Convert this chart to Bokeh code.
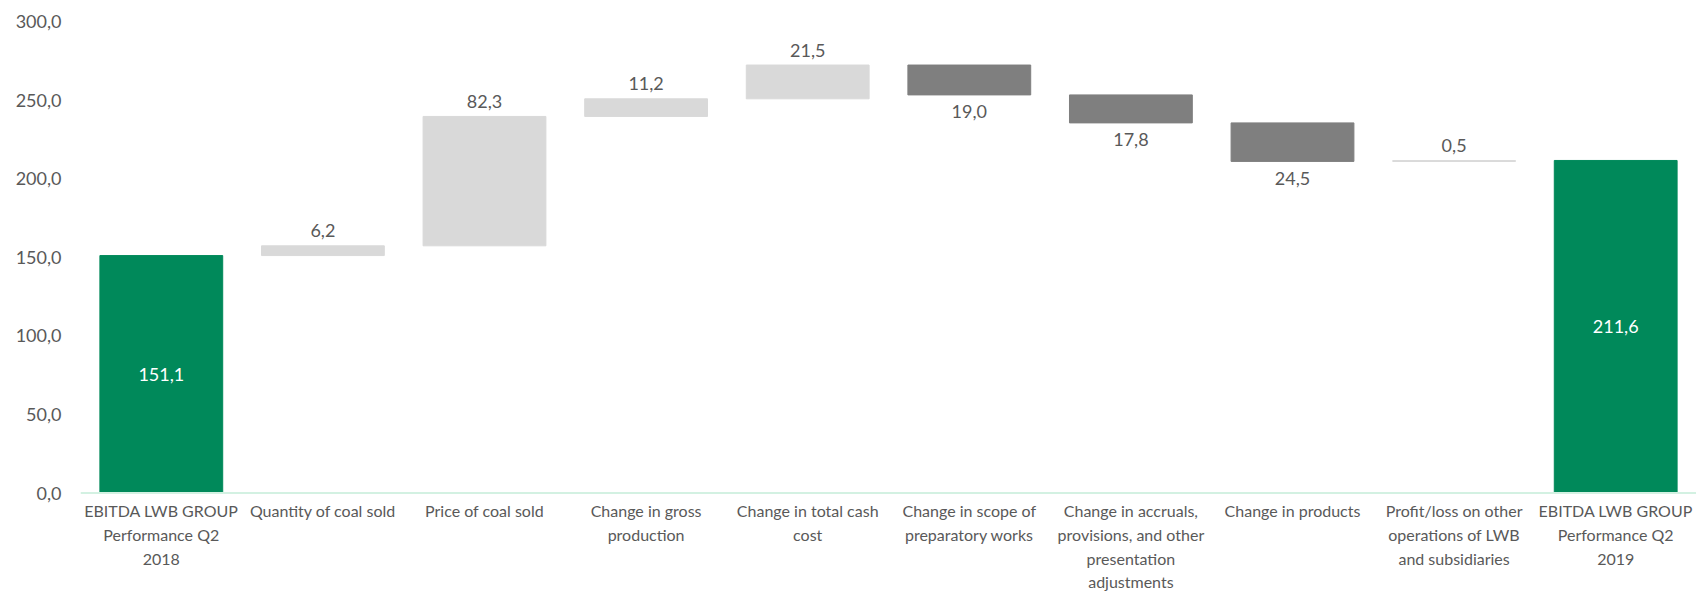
from bokeh.plotting import figure
from bokeh.models import FactorRange, Range1d, FixedTicker, CustomJSTickFormatter, ColumnDataSource, Span
from bokeh.core.properties import value
from bokeh.embed import file_html
from bokeh.resources import INLINE

# EBITDA bridge, LWB Group, Q2 2018 -> Q2 2019 (PLN m)
categories = [
    "EBITDA LWB GROUP\nPerformance Q2\n2018",
    "Quantity of coal sold",
    "Price of coal sold",
    "Change in gross\nproduction",
    "Change in total cash\ncost",
    "Change in scope of\npreparatory works",
    "Change in accruals,\nprovisions, and other\npresentation\nadjustments",
    "Change in products",
    "Profit/loss on other\noperations of LWB\nand subsidiaries",
    "EBITDA LWB GROUP\nPerformance Q2\n2019",
]
start_total = 151.1
deltas = [6.2, 82.3, 11.2, 21.5, -19.0, -17.8, -24.5, 0.5]
end_total = 211.6
y_ticks = [0, 50, 100, 150, 200, 250, 300]

GREEN = "#00895A"
UP = "#D9D9D9"
DOWN = "#7F7F7F"
TEXT = "#595959"
AXIS = "#D3F1E2"
FONT = "Lato"


def fmt(v):
    return f"{abs(v):.1f}".replace(".", ",")


# bar extents: totals rise from zero, changes float on the running sum
bottoms, tops, colors = [0.0], [start_total], [GREEN]
running = start_total
for d in deltas:
    lo, hi = (running, running + d) if d >= 0 else (running + d, running)
    bottoms.append(lo)
    tops.append(hi)
    colors.append(UP if d >= 0 else DOWN)
    running += d
bottoms.append(0.0)
tops.append(end_total)
colors.append(GREEN)

bars = ColumnDataSource(dict(x=categories, bottom=bottoms, top=tops, color=colors))

# the value scale runs 0..300; the band under zero holds the category names
p = figure(
    x_range=FactorRange(*categories, range_padding=0),
    y_range=Range1d(-64.5, 300),
    width=1696, height=594,
    output_backend="svg", toolbar_location=None,
    min_border_left=80, min_border_right=0, min_border_top=21, min_border_bottom=0,
)
p.outline_line_color = None
p.background_fill_color = "white"
p.border_fill_color = "white"
p.xgrid.grid_line_color = None
p.ygrid.grid_line_color = None
p.xaxis.visible = False

p.vbar(x="x", bottom="bottom", top="top", width=0.76, color="color", source=bars)

# category baseline
p.add_layout(Span(location=0, dimension="width", line_color=AXIS, line_width=2))

# change labels: above rising bars, below falling bars
up_src = ColumnDataSource(dict(
    x=[c for c, d in zip(categories[1:-1], deltas) if d >= 0],
    y=[t for t, d in zip(tops[1:-1], deltas) if d >= 0],
    t=[fmt(d) for d in deltas if d >= 0],
))
dn_src = ColumnDataSource(dict(
    x=[c for c, d in zip(categories[1:-1], deltas) if d < 0],
    y=[b for b, d in zip(bottoms[1:-1], deltas) if d < 0],
    t=[fmt(d) for d in deltas if d < 0],
))
tot_src = ColumnDataSource(dict(
    x=[categories[0], categories[-1]],
    y=[start_total / 2, end_total / 2],
    t=[fmt(start_total), fmt(end_total)],
))
common = dict(text="t", text_font=value(FONT), text_font_size="18px",
              text_align="center", text_baseline="middle")
p.text(x="x", y="y", source=up_src, y_offset=-15, text_color=TEXT, **common)
p.text(x="x", y="y", source=dn_src, y_offset=17, text_color=TEXT, **common)
p.text(x="x", y="y", source=tot_src, text_color="white", **common)

# category names under the baseline
cat_src = ColumnDataSource(dict(x=categories, y=[0] * len(categories), t=categories))
p.text(x="x", y="y", text="t", source=cat_src, y_offset=8,
       text_font=value(FONT), text_font_size="16px", text_color=TEXT,
       text_align="center", text_baseline="top", text_line_height=1.25)

# y axis
ya = p.yaxis[0]
ya.ticker = FixedTicker(ticks=y_ticks)
ya.formatter = CustomJSTickFormatter(code="return tick.toFixed(1).replace('.', ',');")
ya.axis_line_color = None
ya.major_tick_line_color = None
ya.minor_tick_line_color = None
ya.major_tick_out = 0
ya.major_label_standoff = 19
ya.major_label_text_font = FONT
ya.major_label_text_font_size = "18px"
ya.major_label_text_color = TEXT

open("out.html", "w").write(file_html(p, INLINE))
